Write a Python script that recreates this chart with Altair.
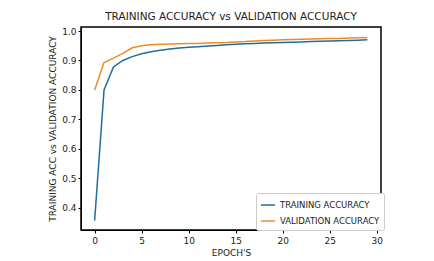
import altair as alt
import pandas as pd

epochs = list(range(30))
train_acc = [0.357, 0.800, 0.878, 0.900, 0.913, 0.923, 0.930, 0.935, 0.939, 0.942,
             0.945, 0.947, 0.949, 0.951, 0.953, 0.955, 0.957, 0.958, 0.959, 0.960,
             0.961, 0.962, 0.963, 0.964, 0.965, 0.966, 0.967, 0.968, 0.969, 0.970]
val_acc = [0.800, 0.893, 0.908, 0.924, 0.943, 0.950, 0.953, 0.955, 0.956, 0.957,
           0.958, 0.958, 0.959, 0.960, 0.961, 0.963, 0.964, 0.966, 0.968, 0.969,
           0.970, 0.971, 0.972, 0.973, 0.974, 0.975, 0.975, 0.976, 0.977, 0.978]
series = ["TRAINING ACCURACY", "VALIDATION ACCURACY"]
colors = ["#1f6e9e", "#f08a24"]

rows = []
for e, t, v in zip(epochs, train_acc, val_acc):
    rows.append({"epoch": e, "acc": t, "series": series[0]})
    rows.append({"epoch": e, "acc": v, "series": series[1]})
df = pd.DataFrame(rows)

W, H = 300, 203
font = "DejaVu Sans"
xscale = alt.Scale(domain=[-1.45, 30.45], nice=False, zero=False)
yscale = alt.Scale(domain=[0.325, 1.0136], nice=False, zero=False)

lines = alt.Chart(df).mark_line(strokeWidth=1.5, clip=True).encode(
    x=alt.X("epoch:Q", title="EPOCH'S", scale=xscale,
            axis=alt.Axis(values=[0, 5, 10, 15, 20, 25, 30], grid=False, labelFontSize=9,
                          titleFontSize=9, titleFontWeight="normal", domainColor="#000",
                          tickColor="#000", labelColor="#222", titleColor="#222",
                          tickSize=3, labelPadding=3, titlePadding=3)),
    y=alt.Y("acc:Q", title="TRAINING ACC vs VALIDATION ACCURACY", scale=yscale,
            axis=alt.Axis(values=[0.4, 0.5, 0.6, 0.7, 0.8, 0.9, 1.0], format=".1f", grid=False,
                          labelFontSize=9, titleFontSize=9, titleFontWeight="normal",
                          domainColor="#000", tickColor="#000", labelColor="#222",
                          titleColor="#222", tickSize=3, labelPadding=2, titlePadding=4)),
    color=alt.Color("series:N", scale=alt.Scale(domain=series, range=colors),
                    legend=alt.Legend(title=None, orient="none", legendX=175, legendY=166,
                                      labelFontSize=8.5, symbolType="stroke", symbolSize=200,
                                      symbolStrokeWidth=1.5, strokeColor="#ccc",
                                      fillColor="white", padding=4, cornerRadius=2,
                                      rowPadding=3, labelColor="#222")),
)

one = pd.DataFrame({"a": [0]})
frame = alt.Chart(one).mark_rect(
    fill="transparent", stroke="#000", strokeWidth=1.5
).encode(x=alt.value(0), x2=alt.value(W), y=alt.value(0), y2=alt.value(H))

chart = alt.layer(lines, frame).properties(
    width=W, height=H,
    title=alt.TitleParams("TRAINING ACCURACY vs VALIDATION ACCURACY", fontSize=10.5,
                          fontWeight="normal", color="#222", offset=4),
    autosize=alt.AutoSizeParams(type="none"),
    padding={"left": 73, "top": 19, "right": 40, "bottom": 30},
).configure(font=font).configure_view(strokeWidth=0)

chart.save("out.html", embed_options={"renderer": "svg", "actions": False})
